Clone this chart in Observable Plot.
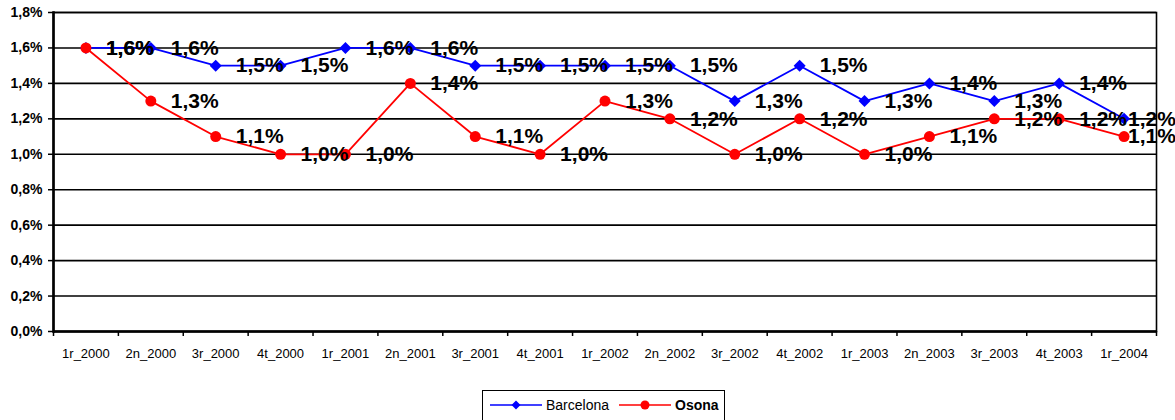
<!DOCTYPE html>
<html>
<head>
<meta charset="utf-8">
<script src="https://cdn.jsdelivr.net/npm/d3@7"></script>
<script src="https://cdn.jsdelivr.net/npm/@observablehq/plot@0.6"></script>
<style>
  html, body { margin: 0; padding: 0; background: #fff; }
  body { width: 1175px; height: 420px; position: relative; overflow: hidden; font-family: "Liberation Sans", Arial, sans-serif; }
  #legend { position: absolute; left: 482px; top: 390px; width: 243px; height: 40px; border: 1.5px solid #000; box-sizing: border-box; display: flex; align-items: flex-start; padding-top: 6px; padding-left: 7px; font-size: 14px; }
  #legend .item { display: flex; align-items: center; }
  #legend svg { margin-right: 4px; }
</style>
</head>
<body>
<div id="chart"></div>
<div id="legend"></div>
<script>
const categories = ["1r_2000","2n_2000","3r_2000","4t_2000","1r_2001","2n_2001","3r_2001","4t_2001","1r_2002","2n_2002","3r_2002","4t_2002","1r_2003","2n_2003","3r_2003","4t_2003","1r_2004"];
const barcelona = [1.6,1.6,1.5,1.5,1.6,1.6,1.5,1.5,1.5,1.5,1.3,1.5,1.3,1.4,1.3,1.4,1.2];
const osona     = [1.6,1.3,1.1,1.0,1.0,1.4,1.1,1.0,1.3,1.2,1.0,1.2,1.0,1.1,1.2,1.2,1.1];
const yTicks = [0,0.2,0.4,0.6,0.8,1.0,1.2,1.4,1.6,1.8];
const seriesNames = ["Barcelona","Osona"];
const seriesColors = ["#0000ff","#ff0000"];

const fmt = v => v.toFixed(1).replace(".", ",") + "%";
const data = categories.flatMap((c, i) => [
  {cat: c, serie: "Barcelona", v: barcelona[i]},
  {cat: c, serie: "Osona", v: osona[i]}
]);
const lastCat = categories[categories.length - 1];
const W = 1175, ML = 53, MR = 19;
const bw = (W - ML - MR) / categories.length;

const chart = Plot.plot({
  width: W, height: 385,
  marginLeft: ML, marginRight: MR, marginTop: 12, marginBottom: 54,
  style: {fontFamily: '"Liberation Sans", Arial, sans-serif', color: "#000", background: "#fff"},
  x: {type: "band", domain: categories, padding: 0, round: false},
  y: {domain: [0, 1.8]},
  color: {domain: seriesNames, range: seriesColors},
  marks: [
    Plot.ruleY(yTicks, {stroke: "#000", strokeWidth: 1.6}),
    Plot.frame({stroke: "#000", strokeWidth: 1.6}),
    Plot.ruleY([0], {stroke: "#000", strokeWidth: 2.5}),
    Plot.frame({anchor: "left", stroke: "#000", strokeWidth: 2.6}),
    Plot.axisY({ticks: yTicks, tickFormat: fmt, tickSize: 5, tickPadding: 6, fontSize: 14, fontWeight: "bold", label: null, strokeWidth: 1.5}),
    Plot.axisX({tickSize: 0, tickPadding: 17, fontSize: 13, label: null}),
    Plot.axisX({tickSize: 5, tickFormat: () => "", dx: -bw / 2, label: null, strokeWidth: 1.5}),
    Plot.axisX({ticks: [lastCat], tickSize: 5, tickFormat: () => "", dx: bw / 2, label: null, strokeWidth: 1.5}),
    Plot.line(data, {x: "cat", y: "v", z: "serie", stroke: "serie", strokeWidth: 1.8}),
    Plot.dot(data.filter(d => d.serie === "Barcelona"), {x: "cat", y: "v", symbol: "diamond2", r: 5.4, fill: "#0000ff", stroke: "none"}),
    Plot.dot(data.filter(d => d.serie === "Osona"), {x: "cat", y: "v", r: 5.5, fill: "#ff0000", stroke: "none"}),
    Plot.text(data.filter(d => d.cat !== lastCat), {x: "cat", y: "v", text: d => fmt(d.v), dx: 20, textAnchor: "start", fontSize: 21, fontWeight: "bold", fill: "#000"}),
    Plot.text(data.filter(d => d.cat === lastCat), {x: "cat", y: "v", text: d => fmt(d.v), dx: 4, textAnchor: "start", fontSize: 21, fontWeight: "bold", fill: "#000"})
  ]
});
document.getElementById("chart").appendChild(chart);

const legend = document.getElementById("legend");
seriesNames.forEach((name, i) => {
  const item = document.createElement("div");
  item.className = "item";
  item.style.marginRight = i === 0 ? "10px" : "0";
  const sw = i === 0
    ? `<svg width="52" height="12"><line x1="0" y1="6" x2="52" y2="6" stroke="${seriesColors[i]}" stroke-width="1.6"/><path d="M26,1.5L30.5,6L26,10.5L21.5,6Z" fill="${seriesColors[i]}"/></svg>`
    : `<svg width="52" height="12"><line x1="0" y1="6" x2="52" y2="6" stroke="${seriesColors[i]}" stroke-width="1.6"/><circle cx="26" cy="6" r="4.5" fill="${seriesColors[i]}"/></svg>`;
  const label = document.createElement("span");
  label.textContent = name;
  if (i === 1) label.style.fontWeight = "bold";
  item.innerHTML = sw;
  item.appendChild(label);
  legend.appendChild(item);
});
</script>
</body>
</html>
